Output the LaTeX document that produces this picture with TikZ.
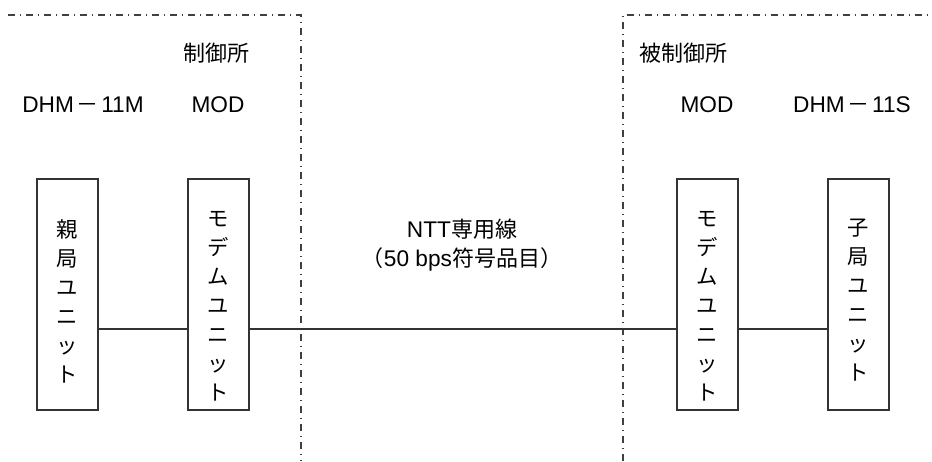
\documentclass[tikz,border=0pt]{standalone}
\usepackage{fontspec}
\setmainfont{Noto Sans CJK JP}
\newfontfamily\latinfont{Liberation Sans}
\usepackage{tikz}

\tikzset{
  unit/.style={draw=black!80,line width=0.8pt,minimum width=45.75pt,minimum height=173.25pt,inner sep=0pt},
  utext/.style={inner sep=0pt,align=center,font=\fontsize{16}{21.75}\selectfont},
  label/.style={inner sep=0.75pt,font=\fontsize{16.5}{19}\selectfont},
  frame/.style={draw=black!75,line width=0.8pt,dash pattern=on 5.5pt off 3.5pt on 1pt off 3.5pt}
}
\newcommand{\lt}[1]{{\latinfont\fontsize{17}{19}\selectfont #1}}

\begin{document}
\begin{tikzpicture}[x=0.75pt,y=0.75pt,yscale=-1,xscale=1]
        \useasboundingbox (0,0) rectangle (932,461);
        %Straight Lines [frame left]
        \draw [frame] (8,15) -| (301,461) ;
        %Straight Lines [frame right]
        \draw [frame] (623,461) |- (932,15) ;

        %Shape: Rectangle [oya]
        \node [unit] (oya) at (67.5,294.5) {};
        \node [utext] (oyaT) at ([yshift=5pt]oya.center) {親\\局\\ユ\\ニ\\ッ\\ト};
        %Shape: Rectangle [modL]
        \node [unit] (modL) at (218.5,294.5) {};
        \node [utext] (modLT) at ([yshift=9pt]modL.center) {モ\\デ\\ム\\ユ\\ニ\\ッ\\ト};
        %Shape: Rectangle [modR]
        \node [unit] (modR) at (707.5,294.5) {};
        \node [utext] (modRT) at ([yshift=8.5pt]modR.center) {モ\\デ\\ム\\ユ\\ニ\\ッ\\ト};
        %Shape: Rectangle [ko]
        \node [unit] (ko) at (858.5,294.5) {};
        \node [utext] (koT) at ([yshift=4.5pt]ko.center) {子\\局\\ユ\\ニ\\ッ\\ト};

        %Straight Lines [links]
        \coordinate (lk) at (0,329) ;
        \draw [line width=0.8pt,black!80] (oya.east |- lk) -- (modL.west |- lk) ;
        \draw [line width=0.8pt,black!80] (modL.east |- lk) -- (modR.west |- lk) ;
        \draw [line width=0.8pt,black!80] (modR.east |- lk) -- (ko.west |- lk) ;

        % Text Node
        \node [label] (ctrl) at (216,53) {制御所};
        % Text Node
        \node [label] (dhmM) at (83,105) {\lt{DHM}\kern2pt－\kern2pt\lt{11M}};
        % Text Node
        \node [label] (modLt) at (218,105) {\lt{MOD}};
        % Text Node
        \node [label] (subctrl) at (683,53) {被制御所};
        % Text Node
        \node [label] (modRt) at (707,105) {\lt{MOD}};
        % Text Node
        \node [label] (dhmS) at (852,105) {\lt{DHM}\kern2pt－\kern2pt\lt{11S}};
        % Text Node
        \node [label,align=center,font=\fontsize{16.5}{22}\selectfont] (ntt) at (462,245) {\lt{NTT}専用線\\（\lt{50 bps}符号品目）};
    \end{tikzpicture}
\end{document}
